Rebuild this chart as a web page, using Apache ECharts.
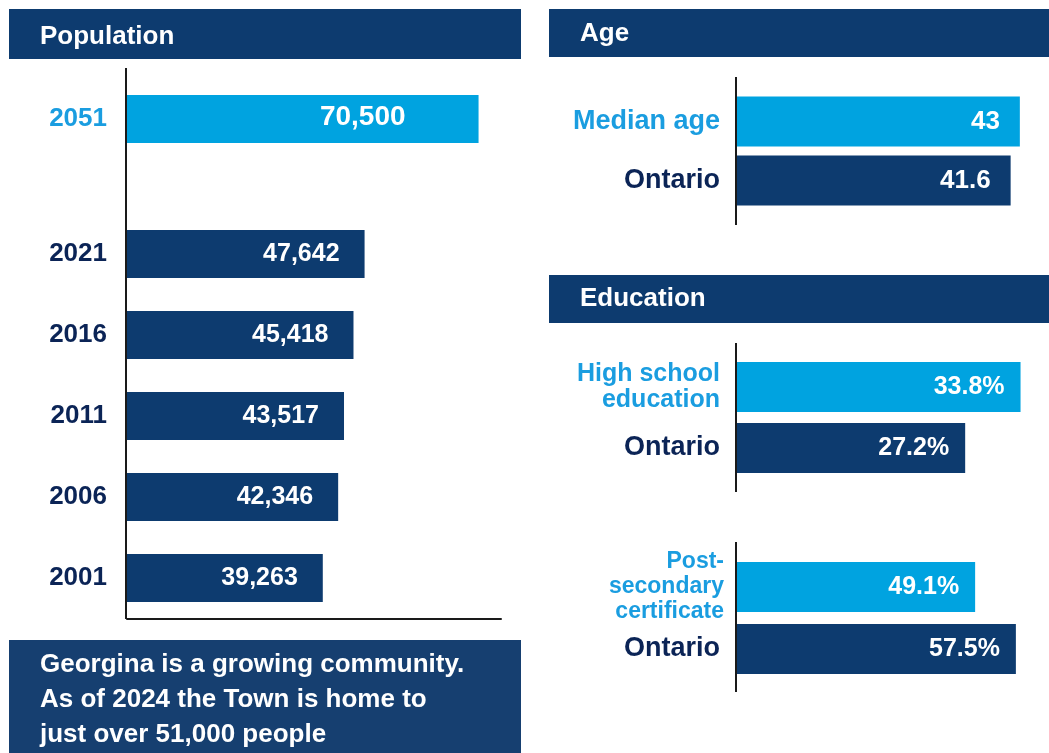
<!DOCTYPE html>
<html lang="en">
<head>
<meta charset="UTF-8" />
<title>Georgina profile</title>
<style>
    * { box-sizing: border-box; margin: 0; padding: 0; }
    html, body { background: #fff; }
    #chart { width: 1049px; height: 753px; }
</style>
</head>
<body>
<div id="chart"></div>
<script src="https://cdn.jsdelivr.net/npm/echarts@6/dist/echarts.min.js"></script>
<script>
    // population (projection shown apart from the census years)
    var popTopYears = ['2051'];
    var popTopValues = [70500];
    var popYears = ['2021', '2016', '2011', '2006', '2001'];
    var popValues = [47642, 45418, 43517, 42346, 39263];
    // age
    var ageLabels = ['Median age', 'Ontario'];
    var ageValues = [43, 41.6];
    // education
    var hsLabels = ['High school\neducation', 'Ontario'];
    var hsValues = [33.8, 27.2];
    var psLabels = ['Post-\nsecondary\ncertificate', 'Ontario'];
    var psValues = [49.1, 57.5];

    var NAVY = '#0d3b6f';
    var LIGHT = '#00a3e0';
    var LIGHT_TXT = '#1a9de0';
    var DARK_TXT = '#0b2456';
    var FONT = '"Liberation Sans", Arial, sans-serif';

    var chart = echarts.init(document.getElementById('chart'));

    // first category can be light blue and sized differently from the rest
    function catAxis(grid, data, margin, firstLight, firstSize, firstLH, restSize, restPad) {
        return {
            gridIndex: grid,
            type: 'category',
            inverse: true,
            data: data,
            axisLine: { show: false },
            axisTick: { show: false },
            axisLabel: {
                margin: margin,
                fontFamily: FONT,
                fontWeight: 'bold',
                formatter: function (v, i) {
                    var key = i === 0 ? 'a' : 'b';
                    return v.split('\n').map(function (s) {
                        return '{' + key + '|' + s + '}';
                    }).join('\n');
                },
                rich: {
                    a: {
                        color: firstLight ? LIGHT_TXT : DARK_TXT,
                        fontSize: firstSize, lineHeight: firstLH,
                        fontWeight: 'bold', fontFamily: FONT
                    },
                    b: {
                        color: DARK_TXT, fontSize: restSize, lineHeight: 30,
                        fontWeight: 'bold', fontFamily: FONT,
                        padding: [0, restPad || 0, 0, 0]
                    }
                }
            }
        };
    }

    function valAxis(grid, max) {
        return {
            gridIndex: grid, type: 'value', min: 0, max: max, show: false
        };
    }

    function valueLabel(fmt, dist, size) {
        return {
            show: true,
            position: 'insideRight',
            distance: dist,
            color: '#fff',
            fontSize: size,
            fontWeight: 'bold',
            fontFamily: FONT,
            formatter: fmt
        };
    }

    var fmtPop = function (p) { return p.value.toLocaleString('en-US'); };
    var fmtNum = function (p) { return String(p.value); };
    var fmtPct = function (p) { return p.value.toFixed(1) + '%'; };

    function pair(values) {
        // first bar is Georgina (light), second is Ontario (dark)
        return values.map(function (v, i) {
            return { value: v, itemStyle: { color: i === 0 ? LIGHT : NAVY } };
        });
    }

    function spine(x, y1, y2) {
        return {
            type: 'line',
            shape: { x1: x, y1: y1, x2: x, y2: y2 },
            style: { stroke: '#1a1a1a', lineWidth: 2 }
        };
    }

    function header(x, y, w, h, title, dy) {
        return [
            { type: 'rect', shape: { x: x, y: y, width: w, height: h }, style: { fill: NAVY } },
            {
                type: 'text', x: x + 31, y: y + h / 2 + dy,
                style: { text: title, fill: '#fff', font: 'bold 26px ' + FONT, verticalAlign: 'middle' }
            }
        ];
    }

    var option = {
        animation: false,
        backgroundColor: '#fff',
        grid: [
            { left: 127, top: 68, width: 374, height: 102 },     // 2051
            { left: 127, top: 213.5, width: 374, height: 405 },  // 2021..2001
            { left: 737, top: 92, width: 296, height: 118 },     // age
            { left: 737, top: 356.5, width: 302, height: 122 },  // high school
            { left: 737, top: 556, width: 291, height: 124 }     // post-secondary
        ],
        xAxis: [
            valAxis(0, 75000),
            {
                gridIndex: 1, type: 'value', min: 0, max: 75000,
                axisLine: { show: true, lineStyle: { color: '#1a1a1a', width: 2 } },
                axisTick: { show: false }, axisLabel: { show: false }, splitLine: { show: false }
            },
            valAxis(2, 45),
            valAxis(3, 36),
            valAxis(4, 60)
        ],
        yAxis: [
            catAxis(0, popTopYears, 20, true, 26, 30, 26),
            catAxis(1, popYears, 20, false, 26, 30, 26),
            catAxis(2, ageLabels, 17, true, 27, 30, 27),
            catAxis(3, hsLabels, 17, true, 25, 26, 27),
            catAxis(4, psLabels, 13, true, 23, 25, 27, 4)
        ],
        series: [
            {
                type: 'bar', xAxisIndex: 0, yAxisIndex: 0, barWidth: 48,
                itemStyle: { color: LIGHT },
                label: valueLabel(fmtPop, 73, 28),
                labelLayout: { dy: -2 },
                data: popTopValues
            },
            {
                type: 'bar', xAxisIndex: 1, yAxisIndex: 1, barWidth: 48,
                itemStyle: { color: NAVY },
                label: valueLabel(fmtPop, 25, 25),
                data: popValues
            },
            {
                type: 'bar', xAxisIndex: 2, yAxisIndex: 2, barWidth: 50,
                label: valueLabel(fmtNum, 20, 26),
                data: pair(ageValues)
            },
            {
                type: 'bar', xAxisIndex: 3, yAxisIndex: 3, barWidth: 50,
                label: valueLabel(fmtPct, 16, 25),
                data: pair(hsValues)
            },
            {
                type: 'bar', xAxisIndex: 4, yAxisIndex: 4, barWidth: 50,
                label: valueLabel(fmtPct, 16, 25),
                data: pair(psValues)
            }
        ],
        graphic: [].concat(
            header(9, 9, 512, 50, 'Population', 3),
            header(549, 9, 500, 48, 'Age', 1),
            header(549, 275, 500, 48, 'Education', 0),
            [
                spine(126, 68, 619),
                spine(736, 77, 225),
                spine(736, 343, 492),
                spine(736, 542, 692),
                { type: 'rect', shape: { x: 9, y: 640, width: 512, height: 113 }, style: { fill: '#163f70' } },
                {
                    type: 'text', x: 40, y: 647,
                    style: {
                        text: 'Georgina is a growing community.\nAs of 2024 the Town is home to\njust over 51,000 people',
                        fill: '#fff', font: 'bold 26px ' + FONT, lineHeight: 35
                    }
                }
            ]
        )
    };

    chart.setOption(option);
</script>
</body>
</html>
